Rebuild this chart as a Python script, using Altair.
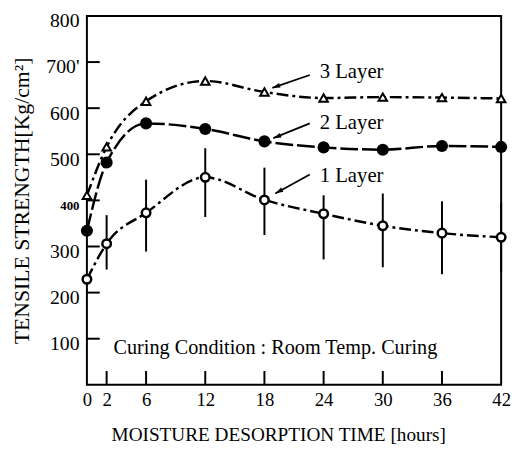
import math
import altair as alt
import pandas as pd

# ---- data ----
hours = [0, 2, 6, 12, 18, 24, 30, 36, 42]
layer1 = [229, 306, 373, 450, 401, 371, 345, 329, 320]
layer1_hi = [None, 368, 445, 513, 471, 411, 415, 398, 395]
layer1_lo = [None, 250, 289, 364, 325, 272, 255, 240, 245]
layer2 = [334, 482, 567, 555, 528, 515, 510, 518, 516]
layer3 = [411, 516, 615, 659, 635, 622, 624, 623, 621]

x_ticks = [0, 2, 6, 12, 18, 24, 30, 36, 42]
x_inner_ticks = [2, 6, 12, 18, 24, 30, 36]
y_ticks = [100, 200, 300, 400, 500, 600, 700, 800]
y_inner_ticks = [100, 200, 300, 400, 500, 600, 700]

label_names = ["3 Layer", "2 Layer", "1 Layer"]
label_x = [23.6, 23.6, 23.6]
label_y = [678, 567, 453]
arrow_x0 = [22.6, 22.6, 22.6]
arrow_y0 = [672, 567, 456]
arrow_x1 = [18.8, 18.9, 19.1]
arrow_y1 = [644, 535, 415]

note_text = ["Curing Condition : Room Temp. Curing"]
note_x = [2.7]
note_y = [79]

W, H = 420, 374
XMAX, YMAX = 42, 800
FONT = "Liberation Serif"

xs = alt.Scale(domain=[0, XMAX], nice=False, zero=False)
ys = alt.Scale(domain=[0, YMAX], nice=False)

df1 = pd.DataFrame({"h": hours, "v": layer1, "hi": layer1_hi, "lo": layer1_lo})
df2 = pd.DataFrame({"h": hours, "v": layer2})
df3 = pd.DataFrame({"h": hours, "v": layer3})

x_axis = alt.Axis(
    values=x_ticks, ticks=False, domain=False, grid=False,
    labelFont=FONT, labelFontSize=19, labelColor="black", labelPadding=6,
    labelFlush=False,
    title="MOISTURE DESORPTION TIME [hours]", titleFont=FONT, titleFontSize=19.5,
    titleFontWeight="normal", titleColor="black",
    titleX=194, titleY=50, titleBaseline="middle", titleAlign="center",
)
y_axis = alt.Axis(
    values=y_ticks, ticks=False, domain=False, grid=False,
    labelFont=FONT,
    labelFontSize={"condition": {"test": "datum.value === 400", "value": 13}, "value": 20},
    labelFontWeight={"condition": {"test": "datum.value === 400", "value": "bold"}, "value": "normal"},
    labelExpr="datum.value === 700 ? \"700'\" : datum.label",
    labelColor="black", labelPadding=8, labelOffset=5, labelFlush=False,
    title="TENSILE STRENGTH[Kg/cm²]", titleFont=FONT, titleFontSize=22,
    titleFontWeight="normal", titleColor="black",
    titleX=-66, titleY=187, titleAlign="center", titleBaseline="middle",
)

X = alt.X("h:Q", scale=xs, axis=x_axis)
Y = alt.Y("v:Q", scale=ys, axis=y_axis)

base1 = alt.Chart(df1)

err = base1.transform_filter("datum.hi != null").mark_rule(
    color="black", strokeWidth=2
).encode(x=alt.X("h:Q", scale=xs, axis=x_axis), y=alt.Y("lo:Q", scale=ys, axis=y_axis), y2="hi:Q")

line1 = base1.mark_line(color="black", strokeWidth=2.5, interpolate="monotone",
                        strokeDash=[12, 4, 3, 4]).encode(x=X, y=Y)
line2 = alt.Chart(df2).mark_line(color="black", strokeWidth=2.5, interpolate="monotone",
                                 strokeDash=[18, 4]).encode(x=X, y=Y)
line3 = alt.Chart(df3).mark_line(color="black", strokeWidth=2.5, interpolate="monotone",
                                 strokeDash=[12, 4, 3, 4]).encode(x=X, y=Y)

pts1 = base1.mark_point(shape="circle", filled=True, fill="white", stroke="black",
                        strokeWidth=2.5, size=75, opacity=1, fillOpacity=1).encode(x=X, y=Y)
pts2 = alt.Chart(df2).mark_circle(color="black", size=150, opacity=1).encode(x=X, y=Y)
pts3 = alt.Chart(df3).mark_point(shape="triangle-up", filled=True, fill="white", stroke="black",
                                 strokeWidth=2, size=75, opacity=1, fillOpacity=1).encode(x=X, y=Y)

# inner ticks
xt = alt.Chart(pd.DataFrame({"h": x_inner_ticks})).mark_rule(color="black", strokeWidth=2).encode(
    x=alt.X("h:Q", scale=xs, axis=x_axis), y=alt.value(H), y2=alt.value(H - 14))
yt = alt.Chart(pd.DataFrame({"v": y_inner_ticks})).mark_rule(color="black", strokeWidth=2).encode(
    y=alt.Y("v:Q", scale=ys, axis=y_axis), x=alt.value(0), x2=alt.value(13))

# annotations
px_per_x = W / XMAX
px_per_y = H / YMAX
angles = []
for a, b, c, d in zip(arrow_x0, arrow_y0, arrow_x1, arrow_y1):
    dx = (c - a) * px_per_x
    dy = -(d - b) * px_per_y
    angles.append((math.degrees(math.atan2(dx, -dy)) + 360) % 360)

ann = pd.DataFrame({"name": label_names, "lx": label_x, "ly": label_y,
                    "x0": arrow_x0, "y0": arrow_y0, "x1": arrow_x1, "y1": arrow_y1,
                    "ang": angles})
labels = alt.Chart(ann).mark_text(font=FONT, fontSize=21, align="left", baseline="middle",
                                  color="black").encode(
    x=alt.X("lx:Q", scale=xs, axis=x_axis), y=alt.Y("ly:Q", scale=ys, axis=y_axis), text="name:N")
arrows = alt.Chart(ann).mark_rule(color="black", strokeWidth=1.8).encode(
    x=alt.X("x0:Q", scale=xs, axis=x_axis), y=alt.Y("y0:Q", scale=ys, axis=y_axis), x2="x1:Q", y2="y1:Q")
heads = alt.Chart(ann).mark_point(shape="M0,0L-0.6,2L0.6,2Z", filled=True, color="black",
                                  size=64, opacity=1).encode(
    x=alt.X("x1:Q", scale=xs, axis=x_axis), y=alt.Y("y1:Q", scale=ys, axis=y_axis),
    angle=alt.Angle("ang:Q", scale=None))

note = alt.Chart(pd.DataFrame({"t": note_text, "x": note_x, "y": note_y})).mark_text(
    font=FONT, fontSize=20.5, align="left", baseline="middle", color="black").encode(
    x=alt.X("x:Q", scale=xs, axis=x_axis), y=alt.Y("y:Q", scale=ys, axis=y_axis), text="t:N")

chart = alt.layer(
    xt, yt, err, line1, line2, line3, pts1, pts2, pts3, arrows, heads, labels, note
).properties(
    width=W, height=H,
    autosize=alt.AutoSizeParams(type="none"),
    padding={"left": 80, "top": 5, "right": 10, "bottom": 62},
    background="white",
).configure_view(stroke="black", strokeWidth=2)

chart.save("out.html", embed_options={"renderer": "svg", "actions": False})
